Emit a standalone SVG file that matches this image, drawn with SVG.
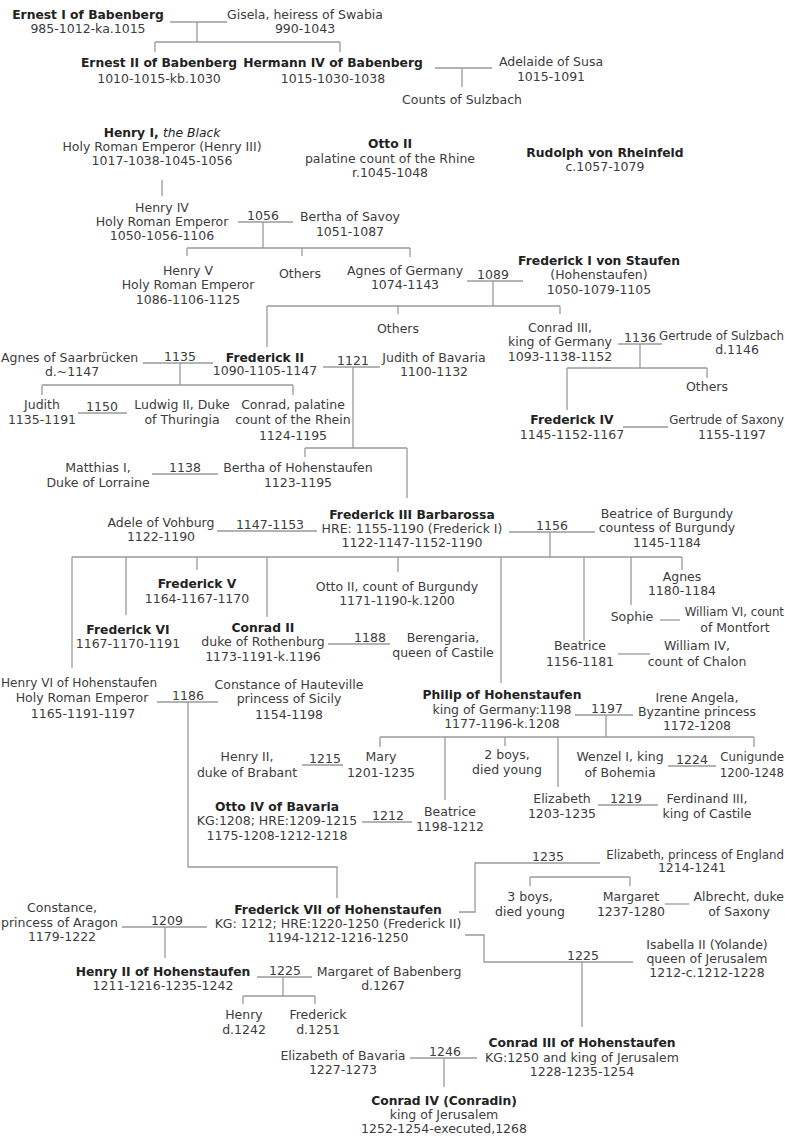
<svg xmlns="http://www.w3.org/2000/svg" width="785" height="1137" viewBox="0 0 785 1137">
<style>
text{font-family:"DejaVu Sans",Verdana,sans-serif;font-size:12.5px;fill:#3c3c3c;text-anchor:middle}
.b{font-weight:bold;font-size:12.3px;fill:#222}
.i{font-style:italic;font-weight:normal}
.s{text-anchor:start}
.e{text-anchor:end}
.k{font-size:11.8px}
.y{font-size:12.5px}
#connectors path{stroke:#9a9a9a;stroke-width:1.3;fill:none}
</style>
<rect width="785" height="1137" fill="#fff"/>
<g id="connectors">
<path d="M170,22H227M197,22V42M155,42H340M155,42V52M340,42V52"/>
<path d="M435,68H492M462,68V87"/>
<path d="M162,180V196"/>
<path d="M238,222H293M263,222V248M187,248H410M187,248V256M302,248V256M410,248V257"/>
<path d="M467,281H523M493,281V306M267,306H560M267,306V347M398,306V314M560,306V314"/>
<path d="M618,344H662M640,344V368M567,368H707M567,368V410M707,368V378"/>
<path d="M143,363H213M180,363V385M42,385H293M42,385V395M293,385V395"/>
<path d="M323,367H380M353,367V448M305,448H407M305,448V457M407,448V498"/>
<path d="M78,413H127"/>
<path d="M152,474H218"/>
<path d="M623,427H668"/>
<path d="M217,531H317"/>
<path d="M509,532H595M550,532V557M72,557H682M72,557V668M126,557V615M197,557V570M267,557V617M398,557V572M501,557V683M584,557V641M631,557V605M682,557V570"/>
<path d="M328,644H390"/>
<path d="M660,620H680"/>
<path d="M618,654H650"/>
<path d="M157,702H218M188,702V867H337V898"/>
<path d="M575,715H633M606,715V737M380,737H754M380,737V747M445,737V800M505,737V746M558,737V787M754,737V747"/>
<path d="M302,765H343"/>
<path d="M668,766H716"/>
<path d="M362,822H412"/>
<path d="M598,805H658"/>
<path d="M459,912H475V863H600"/>
<path d="M530,877H630M530,877V886M630,877V886"/>
<path d="M665,904H689"/>
<path d="M122,927H207M165,927V958"/>
<path d="M465,935H484V962H633M582,962V1027"/>
<path d="M257,977H312M283,977V996M243,996H315M243,996V1004M315,996V1004"/>
<path d="M410,1058H477M444,1058V1087"/>
</g>
<g id="labels">
<text class="y" x="263" y="220">1056</text>
<text class="y" x="493" y="279">1089</text>
<text class="y" x="640" y="342">1136</text>
<text class="y" x="180" y="361">1135</text>
<text class="y" x="353" y="365">1121</text>
<text class="y" x="102" y="411">1150</text>
<text class="y" x="185" y="472">1138</text>
<text class="y" x="270" y="529">1147-1153</text>
<text class="y" x="552" y="530">1156</text>
<text class="y" x="370" y="642">1188</text>
<text class="y" x="188" y="700">1186</text>
<text class="y" x="607" y="713">1197</text>
<text class="y" x="325" y="763">1215</text>
<text class="y" x="692" y="764">1224</text>
<text class="y" x="388" y="820">1212</text>
<text class="y" x="626" y="803">1219</text>
<text class="y" x="548" y="861">1235</text>
<text class="y" x="167" y="925">1209</text>
<text class="y" x="583" y="960">1225</text>
<text class="y" x="285" y="975">1225</text>
<text class="y" x="445" y="1056">1246</text>
</g>
<g id="n1"><text class="b" x="88" y="19">Ernest I of Babenberg</text><text x="88" y="33">985-1012-ka.1015</text></g>
<g id="n2"><text x="305" y="19">Gisela, heiress of Swabia</text><text x="305" y="33">990-1043</text></g>
<g id="n3"><text class="b" x="159" y="67">Ernest II of Babenberg</text><text x="159" y="83">1010-1015-kb.1030</text></g>
<g id="n4"><text class="b" x="333" y="67">Hermann IV of Babenberg</text><text x="333" y="83">1015-1030-1038</text></g>
<g id="n5"><text x="551" y="66">Adelaide of Susa</text><text x="551" y="81">1015-1091</text></g>
<g id="n6"><text x="462" y="104">Counts of Sulzbach</text></g>
<g id="n7"><text class="b" x="162" y="137">Henry I, <tspan class="i">the Black</tspan></text><text x="162" y="151">Holy Roman Emperor (Henry III)</text><text x="162" y="165">1017-1038-1045-1056</text></g>
<g id="n8"><text class="b" x="390" y="148">Otto II</text><text x="390" y="163">palatine count of the Rhine</text><text x="390" y="177">r.1045-1048</text></g>
<g id="n9"><text class="b" x="605" y="157">Rudolph von Rheinfeld</text><text x="605" y="171">c.1057-1079</text></g>
<g id="n10"><text x="162" y="212">Henry IV</text><text x="162" y="226">Holy Roman Emperor</text><text x="162" y="240">1050-1056-1106</text></g>
<g id="n11"><text x="350" y="221">Bertha of Savoy</text><text x="350" y="236">1051-1087</text></g>
<g id="n12"><text x="188" y="275">Henry V</text><text x="188" y="289">Holy Roman Emperor</text><text x="188" y="304">1086-1106-1125</text></g>
<g id="n13"><text x="300" y="278">Others</text></g>
<g id="n14"><text x="405" y="275">Agnes of Germany</text><text x="405" y="289">1074-1143</text></g>
<g id="n15"><text class="b" x="599" y="265">Frederick I von Staufen</text><text x="599" y="279">(Hohenstaufen)</text><text x="599" y="294">1050-1079-1105</text></g>
<g id="n16"><text x="398" y="333">Others</text></g>
<g id="n17"><text x="560" y="332">Conrad III,</text><text x="560" y="346">king of Germany</text><text x="560" y="361">1093-1138-1152</text></g>
<g id="n18"><text class="e k" x="784" y="340">Gertrude of Sulzbach</text><text x="737" y="354">d.1146</text></g>
<g id="n19"><text class="s" x="1" y="362">Agnes of Saarbrücken</text><text x="72" y="376">d.~1147</text></g>
<g id="n20"><text class="b" x="265" y="362">Frederick II</text><text x="265" y="375">1090-1105-1147</text></g>
<g id="n21"><text x="434" y="362">Judith of Bavaria</text><text x="434" y="376">1100-1132</text></g>
<g id="n22"><text x="42" y="409">Judith</text><text x="42" y="424">1135-1191</text></g>
<g id="n23"><text x="182" y="409">Ludwig II, Duke</text><text x="182" y="424">of Thuringia</text></g>
<g id="n24"><text x="293" y="409">Conrad, palatine</text><text x="293" y="424">count of the Rhein</text><text x="293" y="440">1124-1195</text></g>
<g id="n25"><text x="98" y="472">Matthias I,</text><text x="98" y="487">Duke of Lorraine</text></g>
<g id="n26"><text x="298" y="472">Bertha of Hohenstaufen</text><text x="298" y="487">1123-1195</text></g>
<g id="n27"><text class="b" x="572" y="424">Frederick IV</text><text x="572" y="439">1145-1152-1167</text></g>
<g id="n28"><text x="707" y="391">Others</text></g>
<g id="n29"><text class="e k" x="784" y="424">Gertrude of Saxony</text><text x="732" y="439">1155-1197</text></g>
<g id="n30"><text x="161" y="527">Adele of Vohburg</text><text x="161" y="541">1122-1190</text></g>
<g id="n31"><text class="b" x="412" y="519">Frederick III Barbarossa</text><text x="412" y="533">HRE: 1155-1190 (Frederick I)</text><text x="412" y="547">1122-1147-1152-1190</text></g>
<g id="n32"><text x="667" y="518">Beatrice of Burgundy</text><text x="667" y="532">countess of Burgundy</text><text x="667" y="547">1145-1184</text></g>
<g id="n33"><text class="b" x="197" y="588">Frederick V</text><text x="197" y="603">1164-1167-1170</text></g>
<g id="n34"><text x="397" y="591">Otto II, count of Burgundy</text><text x="397" y="605">1171-1190-k.1200</text></g>
<g id="n35"><text x="682" y="581">Agnes</text><text x="682" y="595">1180-1184</text></g>
<g id="n36"><text x="632" y="621">Sophie</text></g>
<g id="n37"><text class="e k" x="784" y="616">William VI, count</text><text x="735" y="632">of Montfort</text></g>
<g id="n38"><text class="b" x="128" y="634">Frederick VI</text><text x="128" y="648">1167-1170-1191</text></g>
<g id="n39"><text class="b" x="263" y="632">Conrad II</text><text x="263" y="646">duke of Rothenburg</text><text x="263" y="661">1173-1191-k.1196</text></g>
<g id="n40"><text x="443" y="642">Berengaria,</text><text x="443" y="657">queen of Castile</text></g>
<g id="n41"><text x="580" y="650">Beatrice</text><text x="580" y="666">1156-1181</text></g>
<g id="n42"><text x="697" y="650">William IV,</text><text x="697" y="666">count of Chalon</text></g>
<g id="n43"><text class="s" x="1" y="687" style="font-size:12.1px">Henry VI of Hohenstaufen</text><text x="82" y="702">Holy Roman Emperor</text><text x="83" y="718">1165-1191-1197</text></g>
<g id="n44"><text x="289" y="689">Constance of Hauteville</text><text x="289" y="703">princess of Sicily</text><text x="289" y="719">1154-1198</text></g>
<g id="n45"><text class="b" x="502" y="699">Philip of Hohenstaufen</text><text x="502" y="714">king of Germany:1198</text><text x="502" y="728">1177-1196-k.1208</text></g>
<g id="n46"><text x="697" y="702">Irene Angela,</text><text x="697" y="716">Byzantine princess</text><text x="697" y="730">1172-1208</text></g>
<g id="n47"><text x="247" y="761">Henry II,</text><text x="247" y="777">duke of Brabant</text></g>
<g id="n48"><text x="381" y="761">Mary</text><text x="381" y="777">1201-1235</text></g>
<g id="n49"><text x="507" y="759">2 boys,</text><text x="507" y="774">died young</text></g>
<g id="n50"><text x="620" y="761">Wenzel I, king</text><text x="620" y="777">of Bohemia</text></g>
<g id="n51"><text class="e k" x="784" y="761">Cunigunde</text><text class="e k" x="784" y="777">1200-1248</text></g>
<g id="n52"><text class="b" x="277" y="811">Otto IV of Bavaria</text><text x="277" y="825">KG:1208; HRE:1209-1215</text><text x="277" y="840">1175-1208-1212-1218</text></g>
<g id="n53"><text x="450" y="816">Beatrice</text><text x="450" y="831">1198-1212</text></g>
<g id="n54"><text x="562" y="803">Elizabeth</text><text x="562" y="818">1203-1235</text></g>
<g id="n55"><text x="707" y="803">Ferdinand III,</text><text x="707" y="818">king of Castile</text></g>
<g id="n56"><text class="e k" x="784" y="859">Elizabeth, princess of England</text><text x="692" y="872">1214-1241</text></g>
<g id="n57"><text x="530" y="901">3 boys,</text><text x="530" y="916">died young</text></g>
<g id="n58"><text x="631" y="901">Margaret</text><text x="631" y="916">1237-1280</text></g>
<g id="n59"><text class="e" x="784" y="901">Albrecht, duke</text><text x="739" y="916">of Saxony</text></g>
<g id="n60"><text x="62" y="912">Constance,</text><text class="s" x="1" y="927">princess of Aragon</text><text x="62" y="941">1179-1222</text></g>
<g id="n61"><text class="b" x="338" y="914">Frederick VII of Hohenstaufen</text><text x="338" y="928">KG: 1212; HRE:1220-1250 (Frederick II)</text><text x="338" y="942">1194-1212-1216-1250</text></g>
<g id="n62"><text x="707" y="949">Isabella II (Yolande)</text><text x="707" y="963">queen of Jerusalem</text><text x="707" y="977">1212-c.1212-1228</text></g>
<g id="n63"><text class="b" x="163" y="976">Henry II of Hohenstaufen</text><text x="163" y="990">1211-1216-1235-1242</text></g>
<g id="n64"><text x="389" y="976">Margaret of Babenberg</text><text x="383" y="990">d.1267</text></g>
<g id="n65"><text x="244" y="1019">Henry</text><text x="244" y="1034">d.1242</text></g>
<g id="n66"><text x="318" y="1019">Frederick</text><text x="318" y="1034">d.1251</text></g>
<g id="n67"><text x="343" y="1060">Elizabeth of Bavaria</text><text x="343" y="1074">1227-1273</text></g>
<g id="n68"><text class="b" x="582" y="1047">Conrad III of Hohenstaufen</text><text x="582" y="1062">KG:1250 and king of Jerusalem</text><text x="582" y="1076">1228-1235-1254</text></g>
<g id="n69"><text class="b" x="444" y="1105">Conrad IV (Conradin)</text><text x="444" y="1119">king of Jerusalem</text><text x="444" y="1133">1252-1254-executed,1268</text></g>
</svg>
